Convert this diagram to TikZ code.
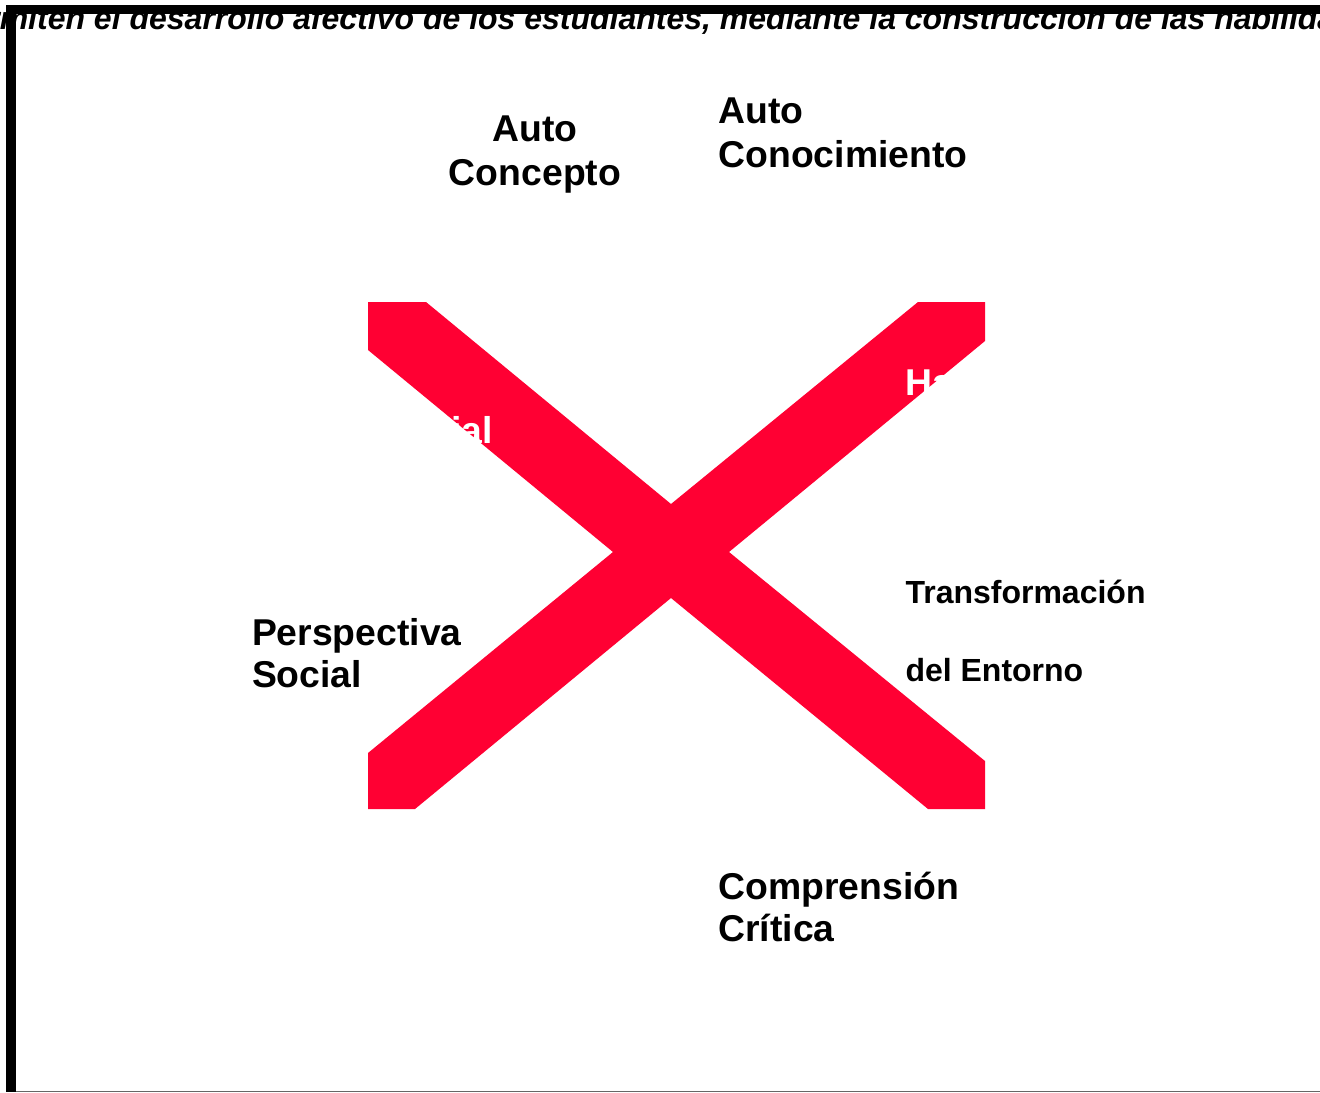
\documentclass[tikz,border=0pt]{standalone}
\usepackage{fontspec}
\setmainfont{Liberation Sans}
\definecolor{xred}{HTML}{FF0033}
\tikzset{
  lbl/.style={inner sep=0pt,outer sep=0pt,font=\bfseries\fontsize{28pt}{32.6pt}\selectfont,align=left},
  lblsmall/.style={inner sep=0pt,outer sep=0pt,font=\bfseries\fontsize{24pt}{58.5pt}\selectfont,align=left},
  toptext/.style={inner sep=0pt,outer sep=0pt,font=\bfseries\itshape\fontsize{24pt}{28pt}\selectfont},
  whitelbl/.style={lbl,text=white}
}
\begin{document}
\begin{tikzpicture}[x=0.75pt,y=-0.75pt]
\fill[white] (0,0) rectangle (1320,1092);
\clip (0,0) rectangle (1320,1092);
\useasboundingbox (0,0) rectangle (1320,1092);
% top running text, cut by the frame
\node[toptext,anchor=base west] (top) at (-50,29.5) {permiten el desarrollo afectivo de los estudiantes, mediante la construcción de las habilidades};
% frame
\fill[black] (6,5) rectangle (1320,14);
\fill[black] (6,5) rectangle (16,1092);
\fill[black!60] (16,1090.6) rectangle (1320,1092);
% red cross
\fill[xred] (368,302) -- (426,302) -- (671,504) -- (918,302) -- (985,302) -- (985,341) -- (729,552)
  -- (985,761) -- (985,809) -- (928,809) -- (671,598) -- (415,809) -- (368,809) -- (368,753)
  -- (613,552) -- (368,350) -- cycle;
% labels
\node[lbl,align=center,anchor=north] (autoconcepto) at (535,116) {Auto\\Concepto};
\node[lbl,anchor=north west] (autoconocimiento) at (718.5,98) {Auto\\Conocimiento};
\node[lbl,anchor=north west] (perspectiva) at (252,618) {Perspectiva\\[-0.5pt]Social};
\node[lbl,anchor=north west] (comprension) at (718.5,872) {Comprensión\\[-1pt]Crítica};
\node[lblsmall,anchor=north west] (transformacion) at (905.5,580) {Transformación\\del Entorno};
\node[whitelbl,anchor=base west] (ha) at (905.5,395) {Ha};
\node[whitelbl,anchor=base east] (ial) at (493,443.5) {ial};
\end{tikzpicture}
\end{document}
